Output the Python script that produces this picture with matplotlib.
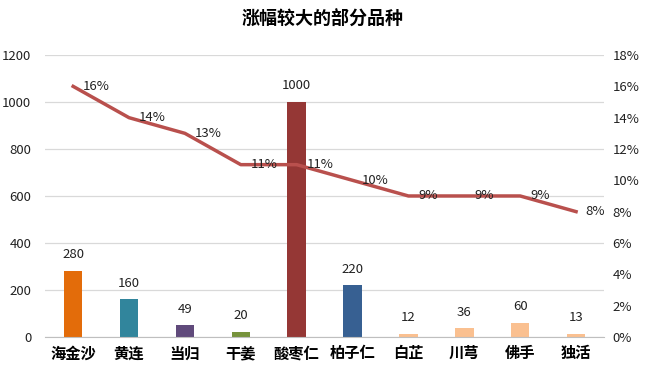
import matplotlib
matplotlib.use("Agg")
import matplotlib.pyplot as plt
from matplotlib.ticker import FuncFormatter

plt.rcParams['font.family'] = ['Noto Sans CJK SC', 'DejaVu Sans']

# 数据
names = ["海金沙", "黄连", "当归", "干姜", "酸枣仁", "柏子仁", "白芷", "川芎", "佛手", "独活"]
prices = [280, 160, 49, 20, 1000, 220, 12, 36, 60, 13]
rises = [16, 14, 13, 11, 11, 10, 9, 9, 9, 8]
colors = ["#e36c0a", "#31859c", "#604a7b", "#77933c", "#953735",
          "#376092", "#fac090", "#fac090", "#fac090", "#fac090"]

fig = plt.figure(figsize=(6.46, 3.67), dpi=100)
ax = fig.add_axes([0.07, 0.082, 0.865, 0.768])
x = range(len(names))

ax.bar(x, prices, width=0.33, color=colors, zorder=2)
for i, v in enumerate(prices):
    ax.annotate(str(v), (i, v), xytext=(0, 7), textcoords="offset points",
                ha="center", va="bottom", fontsize=9.5, color="#222222",
                fontweight="medium")

ax.set_ylim(0, 1200)
ax.set_yticks(range(0, 1201, 200))
ax.set_xlim(-0.5, len(names) - 0.5)
ax.set_xticks(list(x))
ax.set_xticklabels(names, fontsize=11, fontweight="bold")
ax.tick_params(axis="y", labelsize=9.5, length=0, pad=10, labelcolor="#222222")
ax.tick_params(axis="x", length=0, pad=6)
ax.grid(axis="y", color="#d9d9d9", linewidth=0.9, zorder=0)
for s in ["top", "left", "right"]:
    ax.spines[s].set_visible(False)
ax.spines["bottom"].set_color("#bfbfbf")

# 涨幅折线（右轴）
ax2 = ax.twinx()
ax2.plot(x, rises, color="#b9504d", linewidth=2.5, zorder=3)
for i, v in enumerate(rises):
    ax2.annotate(f"{v}%", (i, v), xytext=(7, 0), textcoords="offset points",
                 ha="left", va="center", fontsize=9.5, color="#222222",
                 fontweight="medium")
ax2.set_ylim(0, 18)
ax2.set_yticks(range(0, 19, 2))
ax2.yaxis.set_major_formatter(FuncFormatter(lambda v, p: f"{int(v)}%"))
ax2.tick_params(axis="y", labelsize=9.5, length=0, pad=6, labelcolor="#222222")
for s in ["top", "left", "right", "bottom"]:
    ax2.spines[s].set_visible(False)

fig.suptitle("涨幅较大的部分品种", x=0.5, y=0.975, fontsize=13, fontweight="bold")

fig.savefig("out.png", dpi=100)
